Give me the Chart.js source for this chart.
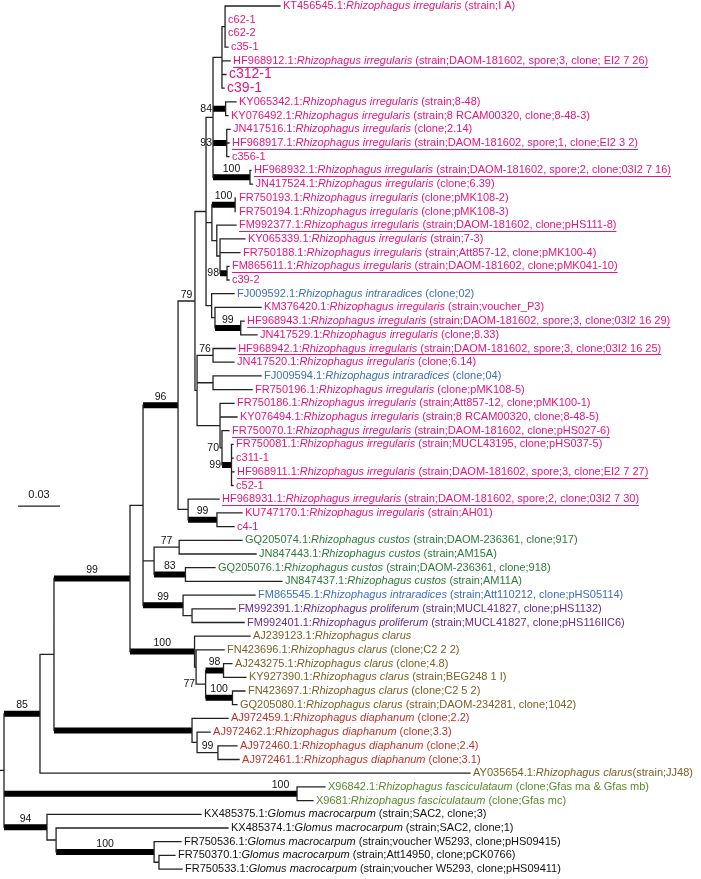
<!DOCTYPE html>
<html>
<head>
<meta charset="utf-8">
<script src="https://cdn.jsdelivr.net/npm/chart.js@4.4.1/dist/chart.umd.min.js"></script>
<style>
    html, body { margin: 0; padding: 0; background: #fff; }
    #wrap { width: 701px; height: 879px; }
</style>
</head>
<body>
<div id="wrap"><canvas id="tree"></canvas></div>
<script>
// tips, top to bottom (y = row index)
const tipAccession = [
    "KT456545.1", "c62-1", "c62-2", "c35-1", "HF968912.1", "c312-1", "c39-1", "KY065342.1",
    "KY076492.1", "JN417516.1", "HF968917.1", "c356-1", "HF968932.1", "JN417524.1", "FR750193.1", "FR750194.1",
    "FM992377.1", "KY065339.1", "FR750188.1", "FM865611.1", "c39-2", "FJ009592.1", "KM376420.1", "HF968943.1",
    "JN417529.1", "HF968942.1", "JN417520.1", "FJ009594.1", "FR750196.1", "FR750186.1", "KY076494.1", "FR750070.1",
    "FR750081.1", "c311-1", "HF968911.1", "c52-1", "HF968931.1", "KU747170.1", "c4-1", "GQ205074.1",
    "JN847443.1", "GQ205076.1", "JN847437.1", "FM865545.1", "FM992391.1", "FM992401.1", "AJ239123.1", "FN423696.1",
    "AJ243275.1", "KY927390.1", "FN423697.1", "GQ205080.1", "AJ972459.1", "AJ972462.1", "AJ972460.1", "AJ972461.1",
    "AY035654.1", "X96842.1", "X9681", "KX485375.1", "KX485374.1", "FR750536.1", "FR750370.1", "FR750533.1",
];

const IRR = "Rhizophagus irregularis";
const tipSpecies = [
    IRR, "", "", "", IRR, "", "", IRR,
    IRR, IRR, IRR, "", IRR, IRR, IRR, IRR,
    IRR, IRR, IRR, IRR, "", "Rhizophagus intraradices", IRR, IRR,
    IRR, IRR, IRR, "Rhizophagus intraradices", IRR, IRR, IRR, IRR,
    IRR, "", IRR, "", IRR, IRR, "", "Rhizophagus custos",
    "Rhizophagus custos", "Rhizophagus custos", "Rhizophagus custos", "Rhizophagus intraradices",
    "Rhizophagus proliferum", "Rhizophagus proliferum", "Rhizophagus clarus", "Rhizophagus clarus",
    "Rhizophagus clarus", "Rhizophagus clarus", "Rhizophagus clarus", "Rhizophagus clarus",
    "Rhizophagus diaphanum", "Rhizophagus diaphanum", "Rhizophagus diaphanum", "Rhizophagus diaphanum",
    "Rhizophagus clarus", "Rhizophagus fasciculataum", "Rhizophagus fasciculataum", "Glomus macrocarpum",
    "Glomus macrocarpum", "Glomus macrocarpum", "Glomus macrocarpum", "Glomus macrocarpum",
];

const tipNote = [
    " (strain;I A)", "", "", "", " (strain;DAOM-181602, spore;3, clone; EI2 7 26)", "", "", " (strain;8-48)",
    " (strain;8 RCAM00320, clone;8-48-3)", " (clone;2.14)", " (strain;DAOM-181602, spore;1, clone;EI2 3 2)", "",
    " (strain;DAOM-181602, spore;2, clone;03I2 7 16)", " (clone;6.39)", " (clone;pMK108-2)", " (clone;pMK108-3)",
    " (strain;DAOM-181602, clone;pHS111-8)", " (strain;7-3)", " (strain;Att857-12, clone;pMK100-4)",
    " (strain;DAOM-181602, clone;pMK041-10)", "", " (clone;02)", " (strain;voucher_P3)",
    " (strain;DAOM-181602, spore;3, clone;03I2 16 29)", " (clone;8.33)",
    " (strain;DAOM-181602, spore;3, clone;03I2 16 25)", " (clone;6.14)", " (clone;04)", " (clone;pMK108-5)",
    " (strain;Att857-12, clone;pMK100-1)", " (strain;8 RCAM00320, clone;8-48-5)",
    " (strain;DAOM-181602, clone;pHS027-6)", " (strain;MUCL43195, clone;pHS037-5)", "",
    " (strain;DAOM-181602, spore;3, clone;EI2 7 27)", "", " (strain;DAOM-181602, spore;2, clone;03I2 7 30)",
    " (strain;AH01)", "", " (strain;DAOM-236361, clone;917)", " (strain;AM15A)",
    " (strain;DAOM-236361, clone;918)", " (strain;AM11A)", " (strain;Att110212, clone;pHS05114)",
    " (strain;MUCL41827, clone;pHS1132)", " (strain;MUCL41827, clone;pHS116IIC6)", "", " (clone;C2 2 2)",
    " (clone;4.8)", " (strain;BEG248 1 I)", " (clone;C2 5 2)", " (strain;DAOM-234281, clone;1042)",
    " (clone;2.2)", " (clone;3.3)", " (clone;2.4)", " (clone;3.1)", "(strain;JJ48)",
    " (clone;Gfas ma & Gfas mb)", " (clone;Gfas mc)", " (strain;SAC2, clone;3)", " (strain;SAC2, clone;1)",
    " (strain;voucher W5293, clone;pHS09415)", " (strain;Att14950, clone;pCK0766)",
    " (strain;voucher W5293, clone;pHS09411)",
];

const tipGroup = [
    "irr", "irr", "irr", "irr", "irr", "irr", "irr", "irr",
    "irr", "irr", "irr", "irr", "irr", "irr", "irr", "irr",
    "irr", "irr", "irr", "irr", "irr", "intra", "irr", "irr",
    "irr", "irr", "irr", "intra", "irr", "irr", "irr", "irr",
    "irr", "irr", "irr", "irr", "irr", "irr", "irr", "custos",
    "custos", "custos", "custos", "intra", "prolif", "prolif", "clarus", "clarus",
    "clarus", "clarus", "clarus", "clarus", "diaph", "diaph", "diaph", "diaph",
    "clarus", "fasc", "fasc", "glomus", "glomus", "glomus", "glomus", "glomus",
];

// distance from root (substitutions/site)
const tipDepth = [
    0.1971, 0.1579, 0.1579, 0.1600, 0.1615, 0.1585, 0.1572, 0.1657,
    0.1600, 0.1615, 0.1607, 0.1607, 0.1764, 0.1775, 0.1657, 0.1657,
    0.1657, 0.1721, 0.1685, 0.1607, 0.1607, 0.1643, 0.1836, 0.1715,
    0.1807, 0.1651, 0.1643, 0.1836, 0.1772, 0.1643, 0.1664, 0.1607,
    0.1636, 0.1636, 0.1643, 0.1636, 0.1536, 0.1700, 0.1643, 0.1700,
    0.1800, 0.1507, 0.1985, 0.1793, 0.1651, 0.1715, 0.1757, 0.1572,
    0.1628, 0.1728, 0.1721, 0.1664, 0.1600, 0.1472, 0.1664, 0.1679,
    0.3329, 0.2293, 0.2207, 0.1407, 0.1600, 0.1264, 0.1221, 0.1272,
];

// internal nodes: children are tip rows (numbers) or node names
const nodeNames = [
    "a1", "a2", "a3", "a93", "a100", "b1", "f100", "g98", "S", "R", "T", "h99", "H", "V", "U",
    "n76", "n2", "n99", "n70", "n3", "N", "c79", "y99", "Y", "c96", "c77", "c83", "C", "p", "c99",
    "M", "n98", "n100c", "n77b", "cl2", "cl100", "b99", "d99", "d2", "dia", "n54", "n85",
    "fasc", "g3", "g100", "g2", "g94", "root",
];
const nodeKids = [
    [0, 1, 2, 3], ["a1", 4, 5, 6], [7, 8], [9, 10, 11], [12, 13], ["a2", "a3", "a93", "a100"],
    [14, 15], [19, 20], [17, 18, "g98"], [16, "S"], ["f100", "R"], [23, 24], [22, "h99"], [21, "H"],
    ["b1", "T", "V"],
    [25, 26], [27, 28], [32, 33, 34, 35], [31, "n99"], [29, 30, "n70"], ["n76", "n2", "n3"],
    ["U", "N"], [37, 38], [36, "y99"], ["c79", "Y"], [39, 40], [41, 42], ["c77", "c83"], [44, 45],
    [43, "p"], ["c96", "C", "c99"], [48, 49], [50, 51], ["n98", "n100c"], [47, "n77b"], [46, "cl2"],
    ["M", "cl100"], [54, 55], [53, "d99"], [52, "d2"], ["b99", "dia"], ["n54", 56],
    [57, 58], [62, 63], [61, "g3"], [60, "g100"], [59, "g2"], ["n85", "fasc", "g94"],
];
const nodeDepth = [
    0.1579, 0.1557, 0.1583, 0.1591, 0.1757, 0.1493, 0.1651, 0.1593, 0.1543, 0.1520, 0.1485, 0.1691, 0.1507, 0.1483, 0.1443,
    0.1493, 0.1493, 0.1625, 0.1557, 0.1543, 0.1379, 0.1364, 0.1521, 0.1315, 0.1243, 0.1251, 0.1296, 0.1072, 0.1343, 0.1279,
    0.0993, 0.1568, 0.1632, 0.1440, 0.1372, 0.1361, 0.0900, 0.1528, 0.1379, 0.1343, 0.0357, 0.0257,
    0.2093, 0.1107, 0.1072, 0.0372, 0.0307, 0,
];
const nodeSupport = [
    null, null, 84, 93, 100, null, 100, 98, null, null, null, 99, null, null, null,
    76, null, 99, 70, null, null, 79, 99, null, 96, 77, 83, null, null, 99,
    null, 98, 100, 77, null, 100, 99, 99, null, null, null, 85,
    100, null, 100, null, 94, null,
];

const scaleBarStart = 0.01;
const scaleBarLength = 0.03;

// ---- styling ----
const groupColors = {
    irr: "#e4167f",
    intra: "#3f6fb8",
    custos: "#2f7a3c",
    prolif: "#6b2a8e",
    clarus: "#7a6229",
    diaph: "#c0342a",
    fasc: "#5a8a30",
    glomus: "#111111",
};
const thickNodes = [
    "a3", "a93", "a100", "f100", "g98", "h99", "n99", "c96", "y99", "c83", "c99", "b99",
    "cl100", "n98", "n100c", "dia", "n85", "fasc", "g94", "g100",
];
const underlined = [
    "HF968912.1", "HF968917.1", "HF968932.1", "FM992377.1", "FM865611.1", "HF968943.1",
    "HF968942.1", "FR750070.1", "HF968911.1", "HF968931.1",
];
const bigTips = ["c312-1", "c39-1"];
const labelShift = { fasc: 130 };
const FONT = '"Liberation Sans", Arial, Helvetica, sans-serif';

// place every node: x = depth, y = middle of first and last child
const pos = {};
const parentOf = {};
function place(key) {
    if (typeof key === "number") return { x: tipDepth[key], y: key };
    if (pos[key]) return pos[key];
    const i = nodeNames.indexOf(key);
    const kids = nodeKids[i].map((k) => {
        parentOf[k] = key;
        return place(k);
    });
    pos[key] = { x: nodeDepth[i], y: (kids[0].y + kids[kids.length - 1].y) / 2, kids };
    return pos[key];
}
place("root");

const xMin = -0.00286;
const xMax = 0.49785;
const gap = { x: null, y: null };
const thinSegs = [];
const thickSegs = [];
nodeNames.forEach((name, i) => {
    const p = pos[name];
    thinSegs.push({ x: p.x, y: p.kids[0].y }, { x: p.x, y: p.kids[p.kids.length - 1].y }, gap);
    nodeKids[i].forEach((k, j) => {
        const c = p.kids[j];
        const target = thickNodes.includes(k) ? thickSegs : thinSegs;
        target.push({ x: p.x, y: c.y }, { x: c.x, y: c.y }, gap);
    });
});
thinSegs.push({ x: xMin, y: pos.root.y }, { x: 0, y: pos.root.y }, gap);

const scaleRow = 36.5;
const scaleSeg = [
    { x: scaleBarStart, y: scaleRow },
    { x: scaleBarStart + scaleBarLength, y: scaleRow },
];

const labelPlugin = {
    id: "treeLabels",
    afterDatasetsDraw: (chart) => {
        const ctx = chart.ctx;
        const xs = chart.scales.x;
        const ys = chart.scales.y;
        ctx.save();

        // tip labels
        ctx.textBaseline = "middle";
        ctx.textAlign = "left";
        tipAccession.forEach((acc, i) => {
            const size = bigTips.includes(acc) ? 14 : 11;
            let px = xs.getPixelForValue(tipDepth[i]) + 3;
            const py = ys.getPixelForValue(i);
            const x0 = px;
            ctx.fillStyle = groupColors[tipGroup[i]];
            const parts = [
                [acc + (tipSpecies[i] ? ":" : ""), "normal"],
                [tipSpecies[i], "italic"],
                [tipNote[i], "normal"],
            ];
            parts.forEach(([txt, style]) => {
                if (!txt) return;
                ctx.font = style + " " + size + "px " + FONT;
                ctx.fillText(txt, px, py);
                px += ctx.measureText(txt).width;
            });
            if (underlined.includes(acc)) {
                ctx.strokeStyle = groupColors[tipGroup[i]];
                ctx.lineWidth = 1;
                ctx.beginPath();
                ctx.moveTo(x0, Math.round(py + 6) + 0.5);
                ctx.lineTo(px, Math.round(py + 6) + 0.5);
                ctx.stroke();
            }
        });

        // support values
        ctx.fillStyle = "#111";
        ctx.font = "10.5px " + FONT;
        nodeNames.forEach((name, i) => {
            if (nodeSupport[i] == null) return;
            const par = pos[parentOf[name]];
            const x1 = xs.getPixelForValue(par.x);
            const x2 = xs.getPixelForValue(pos[name].x);
            const y = ys.getPixelForValue(pos[name].y);
            if (x2 - x1 >= 15) {
                ctx.textAlign = "center";
                ctx.textBaseline = "bottom";
                const lift = thickNodes.includes(name) ? 3 : 1;
                ctx.fillText(String(nodeSupport[i]), (x1 + x2) / 2 + (labelShift[name] || 0), y - lift);
            } else {
                ctx.textAlign = "right";
                ctx.textBaseline = "middle";
                ctx.fillText(String(nodeSupport[i]), x1 - 1, y);
            }
        });

        // scale bar label
        ctx.textAlign = "center";
        ctx.textBaseline = "bottom";
        ctx.font = "11px " + FONT;
        ctx.fillText(
            String(scaleBarLength),
            xs.getPixelForValue(scaleBarStart + scaleBarLength / 2),
            ys.getPixelForValue(scaleRow) - 6
        );
        ctx.restore();
    },
};

const ctxTree = document.getElementById("tree").getContext("2d");
const treeChart = new Chart(ctxTree, {
    type: "line",
    data: {
        datasets: [
            {
                data: thinSegs,
                borderColor: "#222",
                borderWidth: 1.3,
                borderCapStyle: "square",
                pointRadius: 0,
                spanGaps: false,
            },
            {
                data: thickSegs,
                borderColor: "#000",
                borderWidth: 6,
                borderCapStyle: "butt",
                pointRadius: 0,
                spanGaps: false,
            },
            {
                data: scaleSeg,
                borderColor: "#222",
                borderWidth: 1.3,
                pointRadius: 0,
            },
        ],
    },
    options: {
        responsive: true,
        maintainAspectRatio: false,
        animation: false,
        events: [],
        layout: { padding: 0 },
        plugins: {
            legend: { display: false },
            tooltip: { enabled: false },
        },
        scales: {
            x: { type: "linear", min: xMin, max: xMax, display: false },
            y: { type: "linear", min: -0.438, max: 63.723, reverse: true, display: false },
        },
    },
    plugins: [labelPlugin],
});
</script>
</body>
</html>
